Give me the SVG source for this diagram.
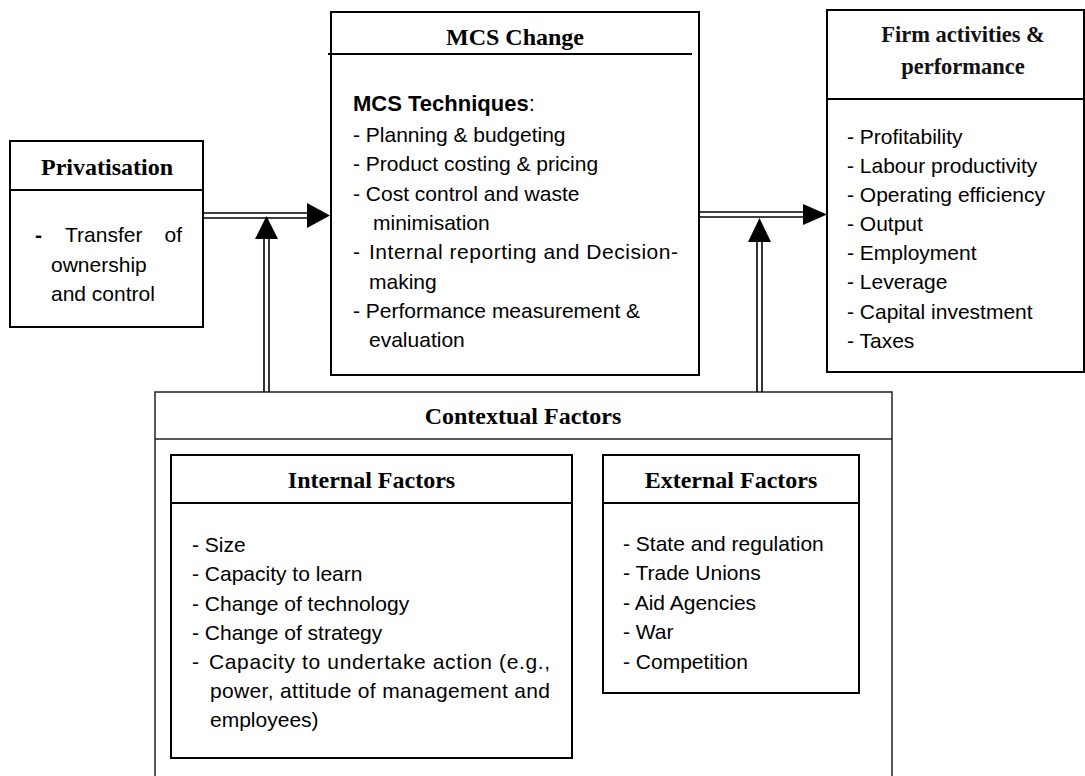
<svg xmlns="http://www.w3.org/2000/svg" width="1085" height="776" viewBox="0 0 1085 776">
<style>
.box{fill:#fff;stroke:#000;stroke-width:2}
.ctx{fill:#fff;stroke:#222;stroke-width:1.5}
.div{stroke:#000;stroke-width:2}
.hd{font-family:"Liberation Serif","Times New Roman",serif;font-weight:bold;font-size:24px;text-anchor:middle;fill:#000}
.hg{font-family:"Liberation Serif","Times New Roman",serif;font-weight:bold;font-size:22.5px;text-anchor:middle;fill:#111}
.tx{font-family:"Liberation Sans",Arial,sans-serif;font-size:21px;fill:#000}
.tb{font-family:"Liberation Sans",Arial,sans-serif;font-size:22px;font-weight:bold;fill:#000}
.ln{stroke:#000;stroke-width:1.6;fill:none}
.ah{fill:#000}
</style>

<g id="contextual">
<rect class="ctx" x="155" y="392" width="737" height="400"/>
<line x1="155" y1="439" x2="892" y2="439" stroke="#222" stroke-width="1.5"/>
<text class="hd" x="523" y="424">Contextual Factors</text>
</g>

<g id="internal">
<rect class="box" x="171" y="455" width="401" height="303"/>
<line class="div" x1="171" y1="503" x2="572" y2="503"/>
<text class="hd" x="371.5" y="488">Internal Factors</text>
<text class="tx" x="192" y="552">- Size</text>
<text class="tx" x="192" y="581">- Capacity to learn</text>
<text class="tx" x="192" y="611">- Change of technology</text>
<text class="tx" x="192" y="640">- Change of strategy</text>
<text class="tx" x="192" y="669">-</text>
<text class="tx" x="209" y="669" textLength="341" lengthAdjust="spacing">Capacity to undertake action (e.g.,</text>
<text class="tx" x="210" y="698" textLength="340" lengthAdjust="spacing">power, attitude of management and</text>
<text class="tx" x="210" y="727">employees)</text>
</g>

<g id="external">
<rect class="box" x="603" y="455" width="256" height="238"/>
<line class="div" x1="603" y1="503" x2="859" y2="503"/>
<text class="hd" x="731" y="488">External Factors</text>
<text class="tx" x="623" y="551">- State and regulation</text>
<text class="tx" x="623" y="580">- Trade Unions</text>
<text class="tx" x="623" y="610">- Aid Agencies</text>
<text class="tx" x="623" y="639">- War</text>
<text class="tx" x="623" y="669">- Competition</text>
</g>

<g id="privatisation">
<rect class="box" x="10" y="141" width="193" height="186"/>
<line class="div" x1="10" y1="190" x2="203" y2="190"/>
<text class="hd" x="107" y="175">Privatisation</text>
<text class="tx" x="35" y="242" font-weight="bold">-</text>
<text class="tx" x="65" y="242">Transfer</text>
<text class="tx" x="182" y="242" text-anchor="end">of</text>
<text class="tx" x="51" y="272">ownership</text>
<text class="tx" x="51" y="301">and control</text>
</g>

<g id="mcs">
<rect class="box" x="331" y="12" width="368" height="363"/>
<line class="div" x1="328" y1="54" x2="692" y2="54"/>
<text class="hd" x="515" y="45">MCS Change</text>
<text class="tb" x="353" y="111">MCS Techniques<tspan font-weight="normal">:</tspan></text>
<text class="tx" x="353" y="142">- Planning &amp; budgeting</text>
<text class="tx" x="353" y="171">- Product costing &amp; pricing</text>
<text class="tx" x="353" y="201">- Cost control and waste</text>
<text class="tx" x="373" y="230">minimisation</text>
<text class="tx" x="353" y="259">-</text>
<text class="tx" x="369" y="259" textLength="309" lengthAdjust="spacing">Internal reporting and Decision-</text>
<text class="tx" x="369" y="289">making</text>
<text class="tx" x="353" y="318">- Performance measurement &amp;</text>
<text class="tx" x="369" y="347">evaluation</text>
</g>

<g id="firm">
<rect class="box" x="827" y="10" width="257" height="362"/>
<line class="div" x1="827" y1="99" x2="1084" y2="99"/>
<text class="hg" x="963" y="42">Firm activities &amp;</text>
<text class="hg" x="963" y="74">performance</text>
<text class="tx" x="847" y="144">- Profitability</text>
<text class="tx" x="847" y="173">- Labour productivity</text>
<text class="tx" x="847" y="202">- Operating efficiency</text>
<text class="tx" x="847" y="231">- Output</text>
<text class="tx" x="847" y="260">- Employment</text>
<text class="tx" x="847" y="289">- Leverage</text>
<text class="tx" x="847" y="319">- Capital investment</text>
<text class="tx" x="847" y="348">- Taxes</text>
</g>

<g id="connectors">
<line class="ln" x1="203" y1="213" x2="310" y2="213"/>
<line class="ln" x1="203" y1="218" x2="310" y2="218"/>
<polygon class="ah" points="307,203 330,215.5 307,228"/>
<line class="ln" x1="264" y1="392" x2="264" y2="237"/>
<line class="ln" x1="269" y1="392" x2="269" y2="237"/>
<polygon class="ah" points="255,239 266.5,216 278,239"/>
<line class="ln" x1="699" y1="212" x2="806" y2="212"/>
<line class="ln" x1="699" y1="217" x2="806" y2="217"/>
<polygon class="ah" points="803,204 827,214.5 803,225"/>
<line class="ln" x1="757" y1="392" x2="757" y2="240"/>
<line class="ln" x1="762" y1="392" x2="762" y2="240"/>
<polygon class="ah" points="748,242 759.5,218 771,242"/>
</g>
</svg>
